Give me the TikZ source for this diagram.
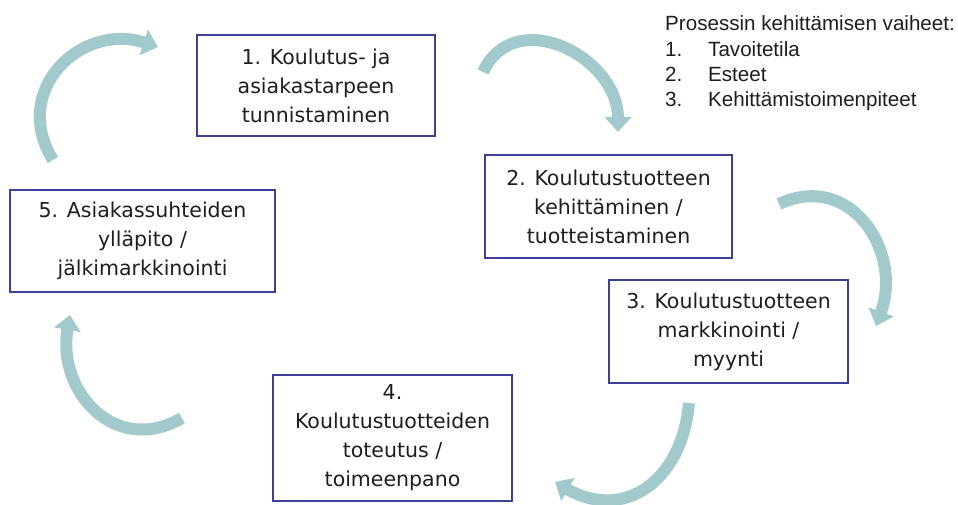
\documentclass[tikz,border=0pt]{standalone}
\usepackage{fontspec}
\setmainfont{DejaVu Sans}
\newfontfamily\legendfont{Liberation Sans}
\usetikzlibrary{arrows.meta}
\definecolor{stageblue}{RGB}{62,62,155}
\definecolor{cycleteal}{RGB}{162,202,205}
\definecolor{textgray}{RGB}{30,30,30}

\begin{document}
\begin{tikzpicture}[x=1pt, y=1pt,
    stage/.style={draw=stageblue, line width=2.4pt, align=center, inner sep=0pt, text=textgray, font=\fontsize{20.5}{29}\selectfont},
    cyclearrow/.style={line width=12pt, draw=cycleteal, -{Triangle[width=26pt,length=15pt]}, looseness=1.3},
    legendline/.style={anchor=base west, inner sep=0pt, text=textgray, font=\legendfont\fontsize{20.6}{24}\selectfont}]
    \useasboundingbox (0,0) rectangle (958,504);
    \node[stage, minimum width=238pt, minimum height=101pt] (s1) at (316,418.5) {1. Koulutus- ja\\asiakastarpeen\\tunnistaminen};
    \node[stage, minimum width=247pt, minimum height=103pt] (s2) at (608.5,297.5) {2. Koulutustuotteen\\kehittäminen /\\tuotteistaminen};
    \node[stage, minimum width=239pt, minimum height=103pt] (s3) at (728.5,172.5) {3. Koulutustuotteen\\markkinointi /\\myynti};
    \node[stage, minimum width=239pt, minimum height=126pt] (s4) at (392.5,66) {4.\\Koulutustuotteiden\\toteutus /\\toimeenpano};
    \node[stage, minimum width=265pt, minimum height=102pt] (s5) at (142.5,263) {5. Asiakassuhteiden\\ylläpito /\\jälkimarkkinointi};
    \coordinate (t51) at (53,344);
    \coordinate (h51) at (158,457);
    \coordinate (t12) at (483,432);
    \coordinate (h12) at (618,372);
    \coordinate (t23) at (779,300);
    \coordinate (h23) at (876,178);
    \coordinate (t34) at (689,101);
    \coordinate (h34) at (555,22);
    \coordinate (t45) at (182,86);
    \coordinate (h45) at (70,189);
    \draw[cyclearrow, looseness=1.35] (t51) to[out=122,in=162] (h51);
    \draw[cyclearrow] (t12) to[out=65,in=90] (h12);
    \draw[cyclearrow] (t23) to[out=25,in=70] (h23);
    \draw[cyclearrow] (t34) to[out=-95,in=-30] (h34);
    \draw[cyclearrow] (t45) to[out=210,in=-100] (h45);
    \node[legendline] (lg0) at (665,473) {Prosessin kehittämisen vaiheet:};
    \node[legendline] (lg1) at (665,447) {\makebox[43pt][l]{1.}Tavoitetila};
    \node[legendline] (lg2) at (665,422) {\makebox[43pt][l]{2.}Esteet};
    \node[legendline] (lg3) at (665,397) {\makebox[43pt][l]{3.}Kehittämistoimenpiteet};
\end{tikzpicture}
\end{document}
